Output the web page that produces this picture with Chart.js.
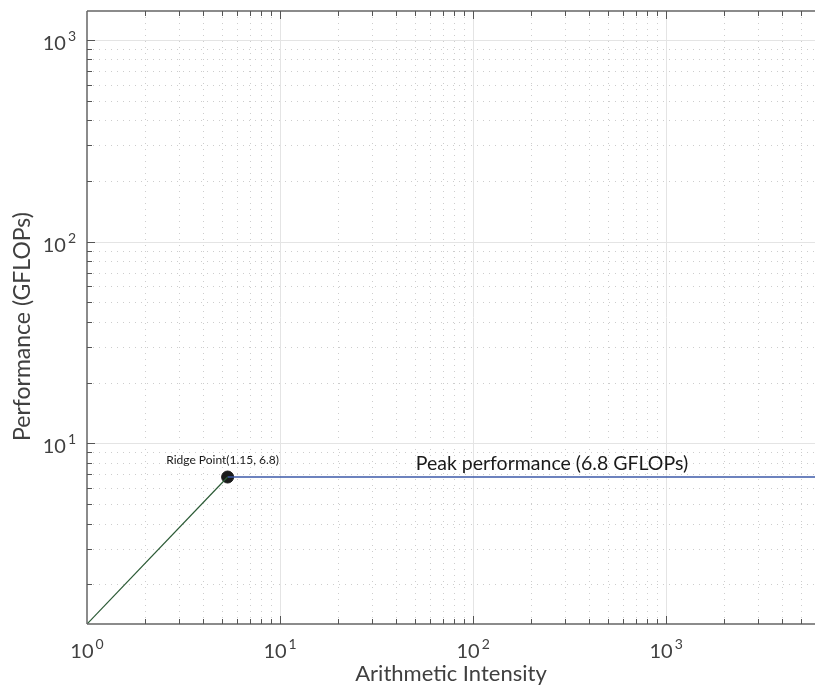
<!DOCTYPE html>
<html>
<head>
<meta charset="utf-8">
<script src="https://cdn.jsdelivr.net/npm/chart.js@4"></script>
<style>
  html, body { margin: 0; padding: 0; background: #fff; }
  #wrap { width: 815px; height: 691px; }
</style>
</head>
<body>
<div id="wrap"><canvas id="roof"></canvas></div>
<script>
// axis ranges and ticks
const X_MIN = 1, X_MAX = 5900
const Y_MIN = 1.27, Y_MAX = 1390
const xTicks = [1, 10, 100, 1000]
const yTicks = [10, 100, 1000]
const decades = [1, 10, 100, 1000]
const minorSteps = [2, 3, 4, 5, 6, 7, 8, 9]

// roofline series
const bandwidthX = [1, 5.35]
const bandwidthY = [1.27, 6.8]
const peakX = [5.35, 5900]
const peakY = [6.8, 6.8]
const ridgeX = [5.35]
const ridgeY = [6.8]

const ridgeLabel = 'Ridge Point(1.15, 6.8)'
const peakLabel = 'Peak performance (6.8 GFLOPs)'
const peakLabelX = 256

const FONT = 'Lato, "Open Sans", sans-serif'
const TXT = '#404040'

const pts = (xs, ys) => xs.map((v, i) => ({ x: v, y: ys[i] }))

function drawPow(ctx, exp, x, y, align) {
  ctx.font = '20px ' + FONT
  const bw = ctx.measureText('10').width
  ctx.font = '14px ' + FONT
  const ew = ctx.measureText(String(exp)).width
  const total = bw + 2 + ew
  let left = align === 'center' ? x - total / 2 : x - total
  ctx.textAlign = 'left'
  ctx.textBaseline = 'alphabetic'
  ctx.fillStyle = TXT
  ctx.font = '20px ' + FONT
  ctx.fillText('10', left, y)
  ctx.font = '14px ' + FONT
  ctx.fillText(String(exp), left + bw + 2, y - 9)
}

const roofPlugin = {
  id: 'roof',
  beforeDatasetsDraw(chart) {
    const { ctx, chartArea: a, scales: { x, y } } = chart
    ctx.save()
    ctx.lineWidth = 1
    // minor dotted grid
    ctx.strokeStyle = '#cdcdcd'
    ctx.setLineDash([1, 5])
    decades.forEach(d => minorSteps.forEach(m => {
      const v = d * m
      if (v > X_MIN && v < X_MAX) {
        const px = Math.round(x.getPixelForValue(v)) + 0.5
        ctx.beginPath(); ctx.moveTo(px, a.top); ctx.lineTo(px, a.bottom); ctx.stroke()
      }
      if (v > Y_MIN && v < Y_MAX) {
        const py = Math.round(y.getPixelForValue(v)) + 0.5
        ctx.beginPath(); ctx.moveTo(a.left, py); ctx.lineTo(a.right, py); ctx.stroke()
      }
    }))
    // major solid grid
    ctx.setLineDash([])
    ctx.strokeStyle = '#e4e4e4'
    xTicks.forEach(v => {
      if (v <= X_MIN) return
      const px = Math.round(x.getPixelForValue(v)) + 0.5
      ctx.beginPath(); ctx.moveTo(px, a.top); ctx.lineTo(px, a.bottom); ctx.stroke()
    })
    yTicks.forEach(v => {
      const py = Math.round(y.getPixelForValue(v)) + 0.5
      ctx.beginPath(); ctx.moveTo(a.left, py); ctx.lineTo(a.right, py); ctx.stroke()
    })
    ctx.restore()
  },
  afterDatasetsDraw(chart) {
    const { ctx, chartArea: a, scales: { x, y } } = chart
    ctx.save()
    // axis box (left, bottom, top)
    ctx.strokeStyle = '#666'
    ctx.lineWidth = 1.5
    ctx.beginPath()
    ctx.moveTo(a.left, a.top); ctx.lineTo(a.right, a.top)
    ctx.moveTo(a.left, a.top); ctx.lineTo(a.left, a.bottom)
    ctx.moveTo(a.left, a.bottom); ctx.lineTo(a.right, a.bottom)
    ctx.stroke()

    // ticks
    ctx.lineWidth = 1
    ctx.strokeStyle = '#555'
    decades.forEach(d => [1, ...minorSteps].forEach(m => {
      const v = d * m
      const len = m === 1 ? 8 : 5
      if (v > X_MIN && v < X_MAX) {
        const px = Math.round(x.getPixelForValue(v)) + 0.5
        ctx.beginPath()
        ctx.moveTo(px, a.bottom); ctx.lineTo(px, a.bottom - len)
        ctx.moveTo(px, a.top); ctx.lineTo(px, a.top + len)
        ctx.stroke()
      }
      if (v > Y_MIN && v < Y_MAX) {
        const py = Math.round(y.getPixelForValue(v)) + 0.5
        ctx.beginPath(); ctx.moveTo(a.left, py); ctx.lineTo(a.left + len, py); ctx.stroke()
      }
    }))

    // tick labels
    xTicks.forEach(v => drawPow(ctx, Math.round(Math.log10(v)), x.getPixelForValue(v), a.bottom + 34, 'center'))
    yTicks.forEach(v => drawPow(ctx, Math.round(Math.log10(v)), a.left - 11, y.getPixelForValue(v) + 10, 'right'))

    // axis titles
    ctx.fillStyle = TXT
    ctx.textAlign = 'center'
    ctx.textBaseline = 'alphabetic'
    ctx.font = '22px ' + FONT
    ctx.fillText('Arithmetic Intensity', (a.left + a.right) / 2, a.bottom + 57)
    ctx.save()
    ctx.translate(30, (a.top + a.bottom) / 2 + 9)
    ctx.rotate(-Math.PI / 2)
    ctx.font = '23px ' + FONT
    ctx.fillText('Performance (GFLOPs)', 0, 0)
    ctx.restore()

    // annotations
    ctx.fillStyle = '#1a1a1a'
    ctx.font = '12px ' + FONT
    ctx.fillText(ridgeLabel, x.getPixelForValue(ridgeX[0]) - 5, y.getPixelForValue(ridgeY[0]) - 13)
    ctx.font = '19.5px ' + FONT
    ctx.fillText(peakLabel, x.getPixelForValue(peakLabelX), y.getPixelForValue(peakY[0]) - 7)
    ctx.restore()
  }
}

new Chart(document.getElementById('roof'), {
  type: 'scatter',
  data: {
    datasets: [
      { label: 'Memory bound', data: pts(bandwidthX, bandwidthY), showLine: true, borderColor: '#2b5a35', borderWidth: 1.2, pointRadius: 0 },
      { label: 'Peak', data: pts(peakX, peakY), showLine: true, borderColor: '#3c5aa8', borderWidth: 1.4, pointRadius: 0 },
      { label: 'Ridge', data: pts(ridgeX, ridgeY), pointRadius: 6, pointBackgroundColor: '#1a1a1a', pointBorderColor: '#1a1a1a' }
    ]
  },
  plugins: [roofPlugin],
  options: {
    responsive: true,
    maintainAspectRatio: false,
    animation: false,
    layout: { autoPadding: false, padding: { top: 11, right: 0, left: 0, bottom: 0 } },
    plugins: { legend: { display: false }, tooltip: { enabled: false } },
    scales: {
      x: {
        type: 'logarithmic', min: X_MIN, max: X_MAX,
        grid: { display: false }, border: { display: false },
        ticks: { display: false },
        afterFit(s) { s.height = 67; s.paddingLeft = 0; s.paddingRight = 0 }
      },
      y: {
        type: 'logarithmic', min: Y_MIN, max: Y_MAX,
        grid: { display: false }, border: { display: false },
        ticks: { display: false },
        afterFit(s) { s.width = 87; s.paddingTop = 0; s.paddingBottom = 0 }
      }
    }
  }
})
</script>
</body>
</html>
